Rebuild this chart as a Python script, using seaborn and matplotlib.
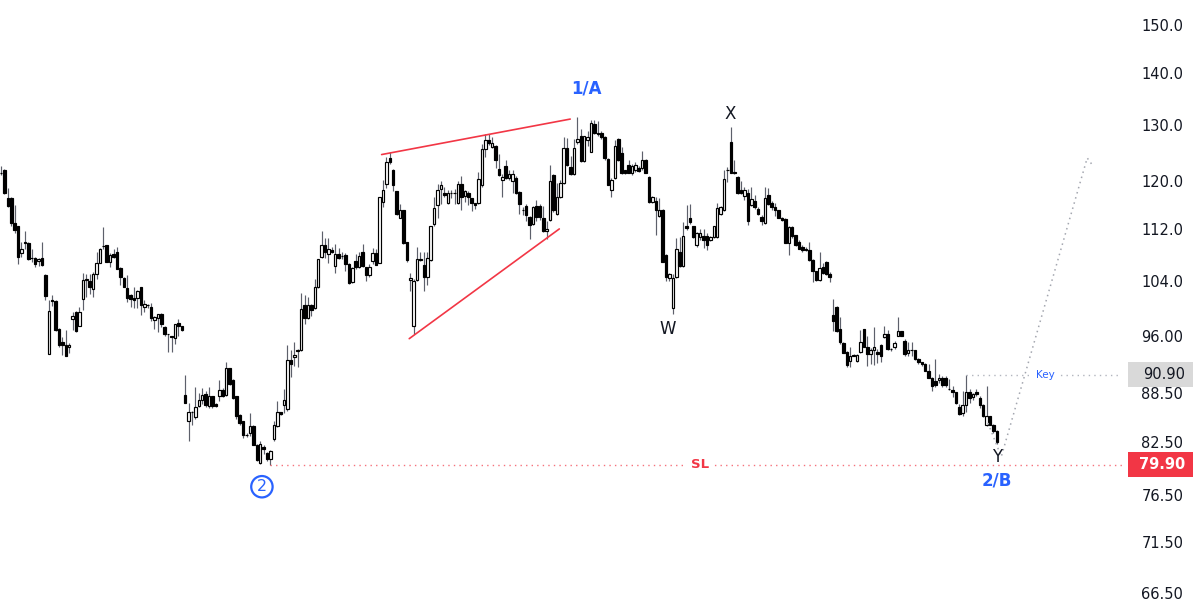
import numpy as np
import pandas as pd
import matplotlib
matplotlib.use("Agg")
import matplotlib.pyplot as plt
import seaborn as sns
from matplotlib.patches import Rectangle
from matplotlib.ticker import NullLocator, NullFormatter

sns.set_style("white")
plt.rcParams['font.family'] = ['DejaVu Sans']

# daily OHLC (log price scale)
opens = [
    121.4, 121.9, 117.0, 117.0, 113.0, 112.4, 108.2, 110.0, 109.8, 107.5,
    107.4, 106.9, 107.5, 104.9, 93.6, 101.2, 101.0, 97.1, 95.3, 94.8,
    94.5, 98.4, 99.4, 97.4, 101.3, 104.1, 104.0, 102.8, 105.0, 106.7,
    109.3, 109.4, 106.8, 108.0, 108.3, 105.9, 104.4, 102.9, 101.9, 101.4,
    101.5, 103.0, 100.2, 100.4, 100.2, 98.3, 98.6, 99.1, 97.3, 96.3,
    96.0, 95.8, 97.9, 97.4, 88.3, 85.0, 86.2, 85.5, 86.9, 87.7,
    88.4, 86.9, 88.1, 87.2, 88.2, 88.9, 88.3, 91.7, 90.2, 88.1,
    85.8, 85.0, 83.4, 83.6, 84.4, 82.2, 80.1, 81.9, 81.2, 80.5,
    82.9, 84.4, 86.1, 87.0, 86.5, 92.8, 93.2, 94.2, 94.1, 100.4,
    98.6, 100.5, 100.0, 103.0, 107.6, 109.4, 108.1, 108.7, 106.2, 108.0,
    107.8, 107.9, 106.5, 103.8, 106.9, 106.1, 108.4, 106.0, 104.9, 106.9,
    108.2, 106.7, 116.4, 119.4, 123.9, 121.9, 118.2, 113.8, 115.0, 109.9,
    104.1, 97.4, 104.1, 107.2, 106.4, 104.5, 107.1, 112.8, 115.9, 118.6,
    118.0, 116.2, 118.0, 117.9, 116.3, 119.5, 117.4, 118.0, 117.0, 116.2,
    116.2, 119.3, 125.6, 127.2, 126.0, 126.1, 122.0, 120.2, 122.6, 120.5,
    120.0, 120.4, 118.1, 115.0, 115.7, 114.0, 112.8, 115.8, 115.7, 113.7,
    111.7, 113.5, 121.0, 114.5, 117.3, 119.7, 125.8, 122.4, 121.2, 126.8,
    128.0, 123.5, 127.2, 125.1, 130.2, 128.6, 128.5, 127.8, 123.8, 118.4,
    120.5, 127.5, 124.8, 121.8, 122.7, 121.4, 121.9, 122.3, 122.2, 123.7,
    120.7, 116.4, 116.5, 114.1, 115.1, 107.9, 104.4, 100.0, 104.5, 108.3,
    106.2, 112.5, 113.7, 112.4, 109.4, 110.7, 110.9, 110.9, 110.2, 110.7,
    110.7, 114.5, 115.0, 121.8, 126.9, 121.5, 120.7, 118.4, 117.4, 118.0,
    115.9, 116.5, 115.3, 113.9, 113.0, 117.6, 116.3, 115.5, 115.0, 113.8,
    113.6, 109.8, 112.3, 111.0, 110.0, 109.1, 108.9, 108.6, 107.1, 105.4,
    104.1, 106.0, 106.8, 105.0, 99.0, 100.2, 97.1, 95.1, 93.9, 92.7,
    93.5, 92.7, 93.9, 97.0, 94.6, 93.6, 94.1, 93.9, 94.9, 95.9,
    96.3, 94.3, 94.5, 96.1, 96.7, 95.4, 93.7, 94.2, 94.1, 93.0,
    92.5, 92.3, 91.4, 90.5, 90.1, 90.2, 90.4, 90.5, 89.1, 88.9,
    88.6, 86.8, 86.0, 87.0, 88.7, 88.0, 88.6, 87.9, 87.0, 84.5,
    85.6, 84.5, 83.8,
]
highs = [
    122.5, 122.0, 118.8, 117.2, 115.9, 112.5, 110.0, 111.6, 110.0, 108.9,
    107.6, 107.5, 110.0, 105.0, 101.2, 101.9, 101.1, 97.2, 95.9, 96.9,
    95.1, 99.4, 99.5, 100.2, 105.2, 105.0, 105.0, 105.3, 108.3, 109.0,
    112.3, 109.5, 108.2, 108.8, 109.2, 106.0, 104.5, 104.8, 102.0, 103.0,
    102.6, 103.1, 101.2, 100.6, 100.7, 98.8, 99.2, 99.3, 97.4, 96.4,
    96.1, 97.8, 98.4, 97.5, 90.9, 87.3, 86.3, 89.3, 88.5, 89.2,
    88.8, 89.3, 88.2, 87.3, 90.2, 89.2, 92.5, 91.8, 90.3, 88.2,
    85.9, 85.1, 83.6, 86.0, 84.5, 82.3, 82.7, 82.2, 81.3, 81.6,
    85.0, 87.5, 86.2, 89.0, 94.8, 94.2, 95.2, 94.3, 102.1, 101.9,
    101.6, 100.6, 104.3, 107.3, 111.7, 110.6, 110.5, 109.2, 109.6, 109.0,
    108.3, 108.2, 106.6, 106.1, 108.0, 108.4, 109.6, 106.1, 106.5, 109.0,
    108.9, 117.3, 120.2, 124.2, 125.0, 122.0, 118.3, 116.0, 115.1, 110.0,
    105.2, 104.3, 109.1, 108.3, 108.3, 108.3, 112.4, 117.3, 119.4, 119.9,
    118.9, 118.4, 118.4, 118.6, 119.9, 120.9, 118.5, 118.2, 117.1, 116.3,
    121.5, 126.5, 128.4, 128.4, 127.8, 126.3, 124.7, 121.2, 123.6, 121.8,
    121.9, 120.8, 118.2, 115.6, 116.0, 114.1, 115.8, 116.7, 116.0, 115.7,
    113.3, 122.8, 121.1, 119.7, 120.2, 127.7, 127.6, 124.3, 127.4, 131.5,
    129.3, 127.9, 128.8, 130.9, 131.0, 130.8, 128.9, 127.9, 123.9, 120.4,
    127.2, 127.6, 126.0, 121.9, 123.7, 123.0, 123.2, 122.5, 125.2, 123.8,
    120.8, 117.4, 117.3, 117.1, 115.2, 108.0, 105.2, 105.0, 110.6, 110.7,
    113.1, 115.9, 116.0, 112.5, 111.5, 112.0, 112.0, 111.3, 110.8, 112.5,
    116.3, 115.7, 121.9, 122.4, 129.7, 123.6, 120.8, 120.0, 119.0, 118.6,
    119.0, 117.6, 115.6, 114.2, 119.0, 118.8, 116.6, 116.3, 115.1, 114.0,
    113.7, 112.5, 112.5, 111.1, 110.3, 109.5, 109.1, 110.0, 107.2, 105.5,
    108.3, 106.6, 107.0, 105.3, 101.3, 100.3, 98.7, 95.3, 94.0, 94.5,
    93.6, 93.6, 96.9, 97.1, 96.0, 94.4, 97.3, 94.3, 95.0, 97.5,
    96.9, 94.4, 95.4, 98.7, 96.8, 95.6, 95.2, 95.3, 94.2, 93.1,
    92.6, 92.4, 92.3, 90.6, 92.9, 91.0, 90.7, 90.7, 90.3, 89.4,
    88.7, 87.1, 88.8, 90.9, 89.0, 88.5, 89.0, 88.1, 87.1, 89.4,
    85.7, 84.7, 83.9,
]
lows = [
    121.0, 117.8, 115.6, 112.5, 111.3, 106.5, 107.6, 108.8, 107.1, 106.8,
    106.0, 106.2, 106.2, 101.2, 93.6, 100.3, 96.7, 94.6, 93.5, 93.4,
    93.8, 96.9, 96.6, 97.4, 99.7, 101.6, 102.0, 101.6, 104.3, 106.6,
    108.9, 106.8, 106.0, 107.4, 105.8, 103.3, 103.0, 100.8, 100.2, 100.0,
    100.0, 99.0, 99.4, 100.0, 98.2, 97.1, 96.6, 97.3, 96.1, 93.9,
    93.9, 95.0, 96.1, 96.7, 87.3, 82.6, 84.6, 85.3, 86.8, 87.1,
    86.8, 86.6, 86.7, 86.8, 87.5, 88.0, 88.1, 89.5, 87.8, 85.3,
    84.5, 83.0, 83.1, 83.2, 82.2, 80.3, 80.0, 81.1, 80.3, 79.8,
    82.7, 84.3, 85.8, 86.0, 86.3, 90.6, 92.0, 91.9, 94.0, 97.7,
    98.5, 98.8, 99.9, 102.9, 107.5, 107.4, 106.7, 108.2, 105.1, 107.2,
    107.3, 105.5, 103.5, 103.7, 105.8, 105.9, 106.1, 103.9, 104.5, 106.5,
    106.3, 106.6, 115.6, 118.7, 123.0, 118.2, 114.3, 113.7, 109.6, 106.8,
    102.5, 96.3, 104.0, 106.9, 102.5, 103.4, 106.9, 112.5, 113.7, 116.0,
    117.3, 116.1, 117.0, 116.0, 116.1, 115.1, 116.4, 115.9, 114.9, 115.3,
    116.0, 119.0, 124.2, 126.4, 125.7, 122.3, 120.8, 117.2, 120.3, 120.2,
    117.9, 117.8, 114.5, 114.3, 113.2, 110.4, 112.6, 113.3, 113.5, 111.5,
    110.4, 113.3, 114.8, 114.3, 117.1, 119.5, 122.5, 121.0, 121.0, 126.5,
    123.2, 123.3, 126.2, 125.0, 128.4, 127.9, 127.4, 123.6, 119.2, 117.2,
    120.3, 123.4, 121.2, 121.2, 121.3, 121.0, 121.5, 121.5, 121.8, 121.3,
    116.3, 116.2, 111.0, 114.0, 106.8, 104.0, 104.0, 99.1, 104.4, 106.1,
    106.0, 111.9, 112.8, 110.5, 109.2, 110.3, 109.0, 108.7, 110.1, 110.5,
    110.6, 114.3, 114.9, 119.8, 121.3, 121.1, 117.8, 117.8, 116.8, 112.6,
    115.8, 115.3, 114.2, 112.6, 112.8, 115.9, 115.0, 114.1, 113.7, 113.2,
    109.8, 107.9, 110.6, 109.3, 108.8, 108.3, 108.5, 107.0, 103.8, 103.9,
    103.9, 105.0, 104.9, 103.8, 96.8, 96.6, 95.0, 93.7, 91.9, 91.9,
    93.3, 92.6, 93.8, 94.5, 92.0, 92.3, 92.1, 92.4, 92.5, 95.8,
    94.1, 94.0, 94.3, 96.0, 96.0, 93.4, 93.4, 93.3, 92.8, 92.3,
    92.0, 91.3, 90.4, 88.8, 89.3, 89.8, 89.3, 89.3, 88.9, 88.0,
    87.2, 85.8, 85.7, 86.1, 87.3, 87.6, 88.1, 86.7, 85.5, 84.4,
    84.5, 83.6, 82.3,
]
closes = [
    121.3, 118.0, 115.8, 113.0, 111.8, 107.6, 108.9, 109.7, 107.2, 107.5,
    106.5, 107.2, 106.4, 101.8, 99.5, 101.0, 96.9, 94.9, 94.9, 93.4,
    94.9, 98.9, 96.8, 99.4, 104.1, 104.2, 103.1, 105.0, 106.7, 108.9,
    109.3, 106.8, 107.9, 107.6, 105.8, 104.5, 103.1, 101.5, 101.3, 101.2,
    102.5, 100.5, 100.6, 100.4, 98.6, 98.7, 99.1, 97.7, 96.4, 96.3,
    95.9, 97.8, 97.4, 96.9, 87.3, 86.2, 86.1, 86.8, 87.7, 88.3,
    87.0, 88.1, 86.9, 86.9, 88.9, 88.2, 91.7, 89.7, 87.9, 85.7,
    84.8, 83.4, 83.4, 84.4, 82.2, 80.4, 82.3, 81.7, 80.5, 81.5,
    84.6, 86.1, 85.9, 87.7, 92.8, 92.3, 93.5, 94.0, 99.8, 98.6,
    100.5, 99.7, 103.0, 107.2, 109.4, 108.4, 108.9, 108.4, 108.0, 107.5,
    107.8, 106.5, 103.7, 105.9, 106.0, 107.8, 106.2, 104.9, 106.1, 108.2,
    106.4, 117.3, 118.4, 123.3, 123.3, 119.3, 114.4, 115.0, 109.8, 107.1,
    104.4, 104.0, 107.2, 107.1, 104.5, 107.4, 112.4, 115.4, 118.5, 119.2,
    117.6, 118.0, 118.0, 117.9, 119.5, 117.3, 118.3, 117.2, 116.2, 115.9,
    120.3, 125.6, 127.2, 126.6, 126.6, 123.6, 121.0, 120.6, 120.5, 121.2,
    121.2, 118.0, 116.0, 115.0, 114.3, 112.6, 115.5, 113.9, 113.9, 111.7,
    112.0, 120.0, 115.1, 117.3, 119.7, 125.8, 122.7, 121.2, 125.8, 127.5,
    123.4, 127.9, 127.8, 130.4, 128.6, 128.3, 127.8, 123.9, 119.2, 120.1,
    126.1, 123.6, 121.4, 121.4, 121.4, 122.5, 122.8, 121.7, 123.7, 121.4,
    116.4, 117.2, 115.0, 115.1, 106.8, 104.5, 105.0, 104.4, 108.8, 106.2,
    110.9, 112.1, 113.1, 110.7, 111.4, 111.4, 110.2, 109.4, 110.7, 112.4,
    115.4, 115.5, 120.3, 121.8, 121.4, 121.3, 118.0, 118.0, 118.4, 113.3,
    116.9, 115.5, 114.4, 113.2, 117.0, 116.1, 115.5, 115.0, 113.8, 113.4,
    109.8, 112.3, 110.8, 109.4, 108.8, 108.7, 108.6, 107.1, 105.4, 104.1,
    105.9, 105.2, 105.0, 104.5, 98.2, 96.8, 95.2, 93.8, 92.2, 93.3,
    93.4, 93.5, 95.3, 94.6, 93.6, 94.1, 94.6, 93.6, 93.3, 96.3,
    94.3, 94.3, 95.1, 96.7, 96.1, 93.6, 94.2, 94.1, 93.0, 92.6,
    92.3, 91.4, 90.5, 89.4, 89.5, 90.4, 89.5, 89.5, 89.1, 88.6,
    87.3, 85.9, 87.0, 88.7, 87.9, 88.4, 88.4, 87.0, 85.6, 85.6,
    84.6, 83.8, 82.5,
]

# price axis
tick_values = [150, 140, 130, 120, 112, 104, 96, 88.5, 82.5, 76.5, 71.5, 66.5]
tick_labels = ["150.0", "140.0", "130.0", "120.0", "112.0", "104.0",
               "96.00", "88.50", "82.50", "76.50", "71.50", "66.50"]

# drawings (bar index, price)
wedge_upper_x = [111.6, 166.9]
wedge_upper_y = [124.6, 131.1]
wedge_lower_x = [119.7, 163.7]
wedge_lower_y = [95.7, 112.0]
proj_x = [289.4, 293.3, 318.5, 320.3]
proj_y = [84.8, 80.8, 124.0, 122.5]
sl_price = 79.90
key_price = 90.90
sl_start = 79
key_start = 283

wave_text = ["1/A", "X", "W", "Y", "2/B"]
wave_x = [171.8, 213.8, 195.6, 292.0, 292.0]
wave_y = [136.9, 132.0, 97.0, 80.8, 78.1]
wave_color = ["#2962ff", "#131722", "#131722", "#131722", "#2962ff"]
wave_weight = ["bold", "normal", "normal", "normal", "bold"]

df = pd.DataFrame({"open": opens, "high": highs, "low": lows, "close": closes})
df["i"] = np.arange(len(df))
df["high"] = df[["open", "high", "close"]].max(axis=1)
df["low"] = df[["open", "low", "close"]].min(axis=1)
up = df["close"] >= df["open"]

fig = plt.figure(figsize=(12, 6), dpi=100)
ax = fig.add_axes([0, 0, 1122 / 1200, 1])
ax.set_yscale("log")

# wicks and bodies
ax.vlines(df["i"], df["low"], df["high"], color="#5d606b", lw=0.85, zorder=1)
ax.bar(df["i"][up], (df["close"] - df["open"])[up], bottom=df["open"][up],
       width=0.74, color="white", edgecolor="black", linewidth=0.85, zorder=2)
ax.bar(df["i"][~up], (df["open"] - df["close"])[~up], bottom=df["close"][~up],
       width=0.74, color="black", edgecolor="black", linewidth=0.85, zorder=2)

# wedge
ax.plot(wedge_upper_x, wedge_upper_y, color="#f23645", lw=1.2, zorder=3)
ax.plot(wedge_lower_x, wedge_lower_y, color="#f23645", lw=1.2, zorder=3)

# projection path
ax.plot(proj_x, proj_y, color="#a3a6af", lw=1.1, ls=(0, (1, 2.5)), zorder=3)

xmax = 328.7
ax.hlines(sl_price, sl_start, xmax, color="#f23645", lw=1.0, ls=(0, (1, 3)), alpha=0.7, zorder=1)
ax.hlines(key_price, key_start, xmax, color="#b2b5be", lw=1.0, ls=(0, (1, 3)), zorder=1)

ax.text(205, sl_price, "SL", color="#f23645", fontsize=9.5, fontweight="bold",
        ha="center", va="center", zorder=4,
        bbox=dict(boxstyle="square,pad=0.3", fc="white", ec="none"))
ax.text(306.2, key_price, "Key", color="#2962ff", fontsize=7.5,
        ha="center", va="center", zorder=4,
        bbox=dict(boxstyle="square,pad=0.3", fc="white", ec="none"))

for t, x, y, c, w in zip(wave_text, wave_x, wave_y, wave_color, wave_weight):
    ax.text(x, y, t, color=c, fontsize=12, fontweight=w, ha="center", va="center", zorder=5)

ax.text(76.5, 77.4, "2", color="#2962ff", fontsize=11.5, ha="center", va="center", zorder=5,
        bbox=dict(boxstyle="circle,pad=0.2", fc="white", ec="#2962ff", lw=1.6))

ax.set_xlim(-0.3, xmax)
ax.set_ylim(65.8, 155.5)

ax.yaxis.tick_right()
ax.set_yticks(tick_values)
ax.set_yticklabels(tick_labels)
ax.yaxis.set_minor_locator(NullLocator())
ax.yaxis.set_minor_formatter(NullFormatter())
ax.tick_params(axis="y", length=0, pad=14, labelsize=10.5, labelcolor="#131722")
ax.set_xticks([])
for s in ax.spines.values():
    s.set_visible(False)

# last-value tags on the price scale
inv = fig.transFigure.inverted()
for val, fc, tc in [(key_price, "#d9d9d9", "#131722"), (sl_price, "#f23645", "white")]:
    yf = inv.transform(ax.transData.transform((0, val)))[1]
    fig.patches.append(Rectangle((1128 / 1200, yf - 12.5 / 600), 65 / 1200, 25 / 600,
                                 transform=fig.transFigure, fc=fc, ec="none", zorder=5))
    fig.text(1185 / 1200, yf, f"{val:.2f}", color=tc, fontsize=10.5, ha="right",
             va="center", zorder=6, fontweight="bold" if tc == "white" else "normal")

fig.savefig("out.png", dpi=100)
